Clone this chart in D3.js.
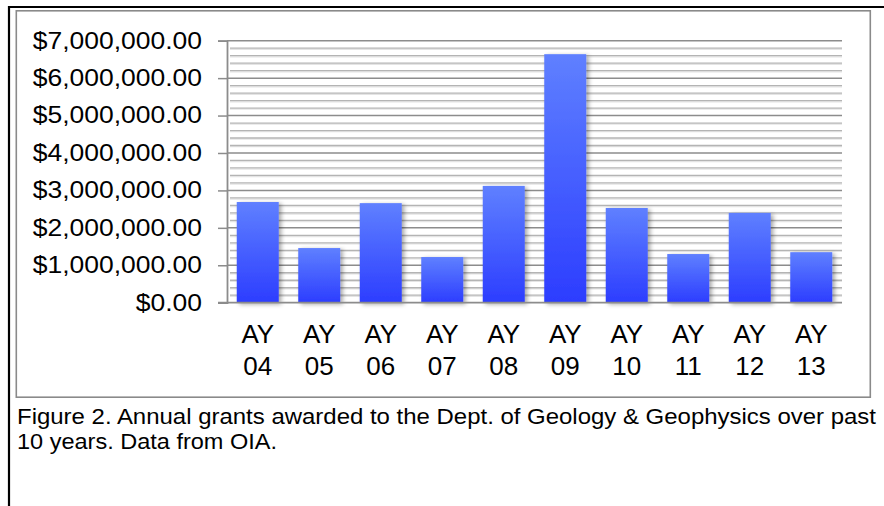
<!DOCTYPE html>
<html>
<head>
<meta charset="utf-8">
<script src="https://cdn.jsdelivr.net/npm/d3@7"></script>
<style>
  body { margin: 0; background: #fff; }
  svg { display: block; font-family: "Liberation Sans", Arial, sans-serif; }
</style>
</head>
<body>
<div id="chart"></div>
<script>
// chart data
const years = ["04", "05", "06", "07", "08", "09", "10", "11", "12", "13"];
const grants = [2690000, 1460000, 2660000, 1220000, 3120000, 6640000, 2530000, 1300000, 2400000, 1350000];
const yTicks = [0, 1000000, 2000000, 3000000, 4000000, 5000000, 6000000, 7000000];
const captionLines = [
    "Figure 2. Annual grants awarded to the Dept. of Geology & Geophysics over past",
    "10 years. Data from OIA."
];

const svgWidth = 884;
const svgHeight = 506;

const margin = { top: 40.7, left: 227, right: 42, bottom: 203.3 };
const width = svgWidth - margin.left - margin.right;
const height = svgHeight - margin.top - margin.bottom;

// the figure's text is a bit wider than the font's own metrics
function stretch(sel, k) {
    sel.each(function() {
        const len = this.getComputedTextLength();
        d3.select(this)
            .attr("textLength", len * k)
            .attr("lengthAdjust", "spacingAndGlyphs");
    });
}

const svg = d3.select("#chart")
    .append("svg")
    .attr("width", svgWidth)
    .attr("height", svgHeight);

// gradient + shadow for the bars
const defs = svg.append("defs");
const grad = defs.append("linearGradient")
    .attr("id", "barGrad")
    .attr("x1", 0).attr("y1", 0)
    .attr("x2", 0).attr("y2", 1);
grad.append("stop").attr("offset", "0%").attr("stop-color", "#5f80ff");
grad.append("stop").attr("offset", "100%").attr("stop-color", "#2c3dff");

const shadow = defs.append("filter")
    .attr("id", "shadow")
    .attr("x", "-20%").attr("y", "-20%")
    .attr("width", "150%").attr("height", "150%");
shadow.append("feDropShadow")
    .attr("dx", 2.5).attr("dy", 1.5)
    .attr("stdDeviation", 2)
    .attr("flood-color", "#000")
    .attr("flood-opacity", 0.35);

// outer black border (top + left only are visible)
svg.append("path")
    .attr("d", "M9,506 V7 H884")
    .attr("fill", "none")
    .attr("stroke", "#000")
    .attr("stroke-width", 2.2);

// chart frame
svg.append("rect")
    .attr("x", 16.3).attr("y", 10.8)
    .attr("width", 854).attr("height", 386.4)
    .attr("fill", "#fff")
    .attr("stroke", "#8a8a8a")
    .attr("stroke-width", 1.6);

const chart = svg.append("g")
    .attr("transform", `translate(${margin.left}, ${margin.top})`);

// scales
const x = d3.scaleBand()
    .domain(years)
    .range([0, width])
    .paddingInner(0.317)
    .paddingOuter(0.1585);

const y = d3.scaleLinear()
    .domain([0, 7000000])
    .range([height, 0]);

// minor gridlines every 200k
const minor = d3.range(0, 7000001, 200000).filter(v => v % 1000000 !== 0);
chart.append("g")
    .selectAll("g")
    .data(minor)
    .join("g")
    .each(function(v) {
        const g = d3.select(this);
        g.append("line")
            .attr("x1", 3).attr("x2", width)
            .attr("y1", y(v) + 1.2).attr("y2", y(v) + 1.2)
            .attr("stroke", "#e4e4e4").attr("stroke-width", 1.2);
        g.append("line")
            .attr("x1", 3).attr("x2", width)
            .attr("y1", y(v)).attr("y2", y(v))
            .attr("stroke", "#b4b4b4").attr("stroke-width", 1.3);
    });

// major gridlines
chart.append("g")
    .selectAll("line")
    .data(yTicks.slice(1))
    .join("line")
    .attr("x1", 0).attr("x2", width)
    .attr("y1", d => y(d)).attr("y2", d => y(d))
    .attr("stroke", "#8c8c8c")
    .attr("stroke-width", 1.5);

// y axis
const yAxis = d3.axisLeft(y)
    .tickValues(yTicks)
    .tickSize(9)
    .tickPadding(16)
    .tickFormat(d => "$" + d3.format(",.2f")(d));

const yAxisG = chart.append("g").call(yAxis);
yAxisG.select(".domain").attr("stroke", "#8c8c8c").attr("stroke-width", 1.8);
yAxisG.selectAll(".tick line").attr("stroke", "#8c8c8c").attr("stroke-width", 1.5);
yAxisG.selectAll(".tick text")
    .attr("fill", "#000")
    .attr("font-size", 23)
    .attr("font-family", "Liberation Sans, Arial, sans-serif")
    .call(stretch, 1.15);

// bars
chart.append("g")
    .selectAll("rect")
    .data(grants)
    .join("rect")
    .attr("x", (d, i) => x(years[i]))
    .attr("y", d => y(d))
    .attr("width", x.bandwidth())
    .attr("height", d => height - y(d))
    .attr("fill", "url(#barGrad)")
    .attr("filter", "url(#shadow)");

// bottom axis line
chart.append("line")
    .attr("x1", -9).attr("x2", width)
    .attr("y1", height).attr("y2", height)
    .attr("stroke", "#8c8c8c")
    .attr("stroke-width", 1.8);

// x labels on two lines
const xLabels = chart.append("g")
    .selectAll("text")
    .data(years)
    .join("text")
    .attr("text-anchor", "middle")
    .attr("font-size", 26)
    .attr("fill", "#000")
    .attr("transform", d => `translate(${x(d) + x.bandwidth() / 2}, ${height + 40.5})`);
xLabels.append("tspan").attr("x", 0).attr("y", 0).text("AY");
xLabels.append("tspan").attr("x", 0).attr("y", 32).text(d => d);

// caption
svg.append("g")
    .selectAll("text")
    .data(captionLines)
    .join("text")
    .attr("x", 17)
    .attr("y", (d, i) => 423.5 + i * 25)
    .attr("font-size", 22)
    .attr("fill", "#000")
    .text(d => d)
    .attr("textLength", (d, i) => i === 0 ? 859 : 260)
    .attr("lengthAdjust", "spacingAndGlyphs");
</script>
</body>
</html>
